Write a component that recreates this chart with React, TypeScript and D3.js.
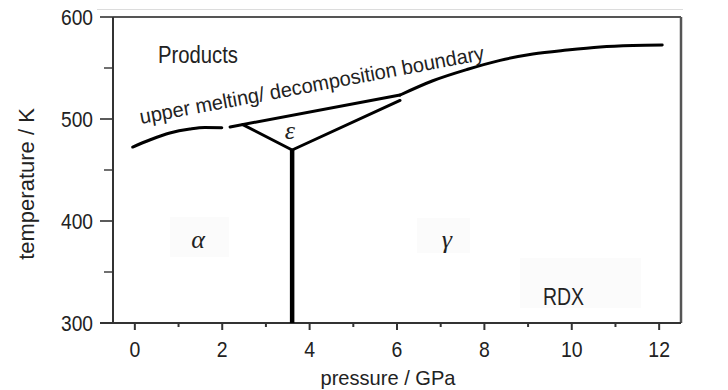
import React, { useEffect, useRef } from 'react';
import * as d3 from 'd3';

// pressure (GPa), temperature (K)
const lowerMeltCurve: Array<[number, number]> = [
  [-0.05, 472.5], [0.34, 479.4], [0.8, 486.3], [1.26, 490.2], [1.6, 491.7], [1.99, 491.5],
];
// straight part of the upper boundary (above the epsilon field)
const upperBoundaryStraight: Array<[number, number]> = [[2.18, 492.2], [6.07, 523.5]];
// curved part at higher pressure
const upperBoundaryCurve: Array<[number, number]> = [
  [6.07, 523.5], [6.82, 537.5], [7.6, 548.5], [8.36, 557.5], [9.11, 563.7],
  [9.89, 567.6], [10.65, 570.6], [11.4, 572], [12.07, 572.5],
];
const epsilonLeftEdge: Array<[number, number]> = [[2.47, 494.5], [3.6, 469.6]];
const epsilonRightEdge: Array<[number, number]> = [[3.6, 469.6], [6.07, 518.2]];
const alphaGammaLine: Array<[number, number]> = [[3.6, 469.6], [3.6, 300]];

const xTicks = [0, 2, 4, 6, 8, 10, 12];
const xMinorTicks = [1, 3, 5, 7, 9, 11];
const yTicks = [300, 400, 500, 600];
const yMinorTicks = [350, 450, 550];

// phase labels: [text, pressure, temperature]
const phaseLabels: Array<[string, number, number]> = [
  ['α', 1.45, 381],
  ['ε', 3.55, 488],
  ['γ', 7.14, 381],
];

const App = () => {
  const ref = useRef<SVGSVGElement | null>(null);

  useEffect(() => {
    const width = 728, height = 390;
    const svg = d3.select(ref.current);
    svg.selectAll('*').remove();

    const x = d3.scaleLinear().domain([-0.5, 12.5]).range([113, 681]);
    const y = d3.scaleLinear().domain([300, 600]).range([323, 17]);
    const font = '"Liberation Sans", Arial, sans-serif';

    svg.append('rect').attr('width', width).attr('height', height).attr('fill', '#fff');

    // faint scan artefacts: top line, label boxes
    svg.append('line').attr('x1', 97).attr('x2', 683).attr('y1', 9.5).attr('y2', 9.5)
      .attr('stroke', '#dcdcdc').attr('stroke-width', 1);
    const boxes = [[170, 217, 59, 40], [417, 218, 53, 35], [520, 258, 121, 50]];
    boxes.forEach(([bx, by, bw, bh]) => {
      svg.append('rect').attr('x', bx).attr('y', by).attr('width', bw).attr('height', bh).attr('fill', '#fbfbfb');
    });

    // frame
    svg.append('line').attr('x1', x(-0.5)).attr('x2', x(12.5)).attr('y1', y(600)).attr('y2', y(600))
      .attr('stroke', '#555').attr('stroke-width', 2);
    svg.append('line').attr('x1', x(12.5)).attr('x2', x(12.5)).attr('y1', y(600)).attr('y2', y(300))
      .attr('stroke', '#555').attr('stroke-width', 2.5);
    svg.append('line').attr('x1', x(-0.5)).attr('x2', x(-0.5)).attr('y1', y(600)).attr('y2', y(300))
      .attr('stroke', '#333').attr('stroke-width', 2);
    svg.append('line').attr('x1', 100).attr('x2', x(12.5)).attr('y1', y(300)).attr('y2', y(300))
      .attr('stroke', '#333').attr('stroke-width', 2);

    // y ticks
    yTicks.forEach(t => {
      svg.append('line').attr('x1', 100).attr('x2', x(-0.5)).attr('y1', y(t)).attr('y2', y(t))
        .attr('stroke', '#333').attr('stroke-width', 1.6);
      svg.append('text').attr('x', 93).attr('y', y(t)).attr('dy', '0.36em')
        .attr('text-anchor', 'end').attr('font-family', font).attr('font-size', 22)
        .attr('textLength', 32).attr('lengthAdjust', 'spacingAndGlyphs')
        .attr('fill', '#222').text(t);
    });
    yMinorTicks.forEach(t => {
      svg.append('line').attr('x1', 104).attr('x2', x(-0.5)).attr('y1', y(t)).attr('y2', y(t))
        .attr('stroke', '#333').attr('stroke-width', 1.4);
    });

    // x ticks
    xTicks.forEach(t => {
      svg.append('line').attr('x1', x(t)).attr('x2', x(t)).attr('y1', y(300)).attr('y2', y(300) + 7)
        .attr('stroke', '#333').attr('stroke-width', 2);
      const label = String(t);
      svg.append('text').attr('x', x(t)).attr('y', 357)
        .attr('text-anchor', 'middle').attr('font-family', font).attr('font-size', 22.5)
        .attr('textLength', label.length * 10.8).attr('lengthAdjust', 'spacingAndGlyphs')
        .attr('fill', '#222').text(label);
    });
    xMinorTicks.forEach(t => {
      svg.append('line').attr('x1', x(t)).attr('x2', x(t)).attr('y1', y(300)).attr('y2', y(300) + 4)
        .attr('stroke', '#333').attr('stroke-width', 2);
    });

    // axis titles
    svg.append('text').attr('x', 388).attr('y', 385).attr('text-anchor', 'middle')
      .attr('font-family', font).attr('font-size', 21).attr('fill', '#222')
      .attr('textLength', 135).attr('lengthAdjust', 'spacingAndGlyphs').text('pressure / GPa');
    svg.append('text').attr('transform', 'translate(34,184) rotate(-90)').attr('text-anchor', 'middle')
      .attr('font-family', font).attr('font-size', 22).attr('fill', '#222').text('temperature / K');

    // phase boundaries
    const line = d3.line<[number, number]>().x(d => x(d[0])).y(d => y(d[1]));
    const curved = d3.line<[number, number]>().x(d => x(d[0])).y(d => y(d[1])).curve(d3.curveMonotoneX);

    [curved(lowerMeltCurve), line(upperBoundaryStraight), curved(upperBoundaryCurve),
      line(epsilonLeftEdge), line(epsilonRightEdge)].forEach(d => {
      svg.append('path').attr('d', d).attr('fill', 'none')
        .attr('stroke', '#000').attr('stroke-width', 3).attr('stroke-linecap', 'round')
        .attr('stroke-linejoin', 'round');
    });
    svg.append('path').attr('d', line(alphaGammaLine)).attr('fill', 'none')
      .attr('stroke', '#000').attr('stroke-width', 4.5);

    // labels
    svg.append('text').attr('x', 158).attr('y', 63).attr('font-family', font).attr('font-size', 23)
      .attr('textLength', 80).attr('lengthAdjust', 'spacingAndGlyphs')
      .attr('fill', '#222').text('Products');
    svg.append('text').attr('x', 543).attr('y', 305)
      .attr('font-family', font).attr('font-size', 23).attr('textLength', 41)
      .attr('lengthAdjust', 'spacingAndGlyphs').attr('fill', '#222').text('RDX');
    svg.append('text').attr('transform', 'translate(141,124) rotate(-10.6)')
      .attr('font-family', font).attr('font-size', 20.5).attr('fill', '#222')
      .attr('textLength', 350).attr('lengthAdjust', 'spacingAndGlyphs')
      .text('upper melting/ decomposition boundary');

    phaseLabels.forEach(([label, p, t]) => {
      svg.append('text').attr('x', x(p)).attr('y', y(t)).attr('dy', '0.3em')
        .attr('text-anchor', 'middle').attr('font-family', '"Liberation Serif", "Times New Roman", serif')
        .attr('font-style', 'italic').attr('font-size', 26).attr('fill', '#222').text(label);
    });
  }, []);

  return (
    <svg ref={ref} width={728} height={390}
      style={{ position: 'absolute', left: 0, top: 0, display: 'block' }} />
  );
};

export default App;
